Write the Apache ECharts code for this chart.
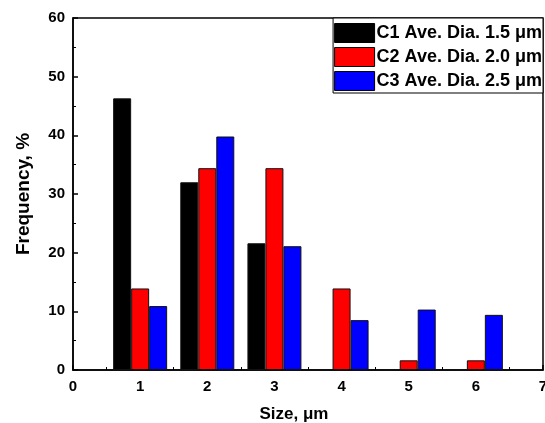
<!DOCTYPE html>
<html>
<head>
<meta charset="utf-8">
<script src="https://cdn.jsdelivr.net/npm/echarts@6/dist/echarts.min.js"></script>
<style>
  html, body { margin: 0; padding: 0; background: #fff; }
  #SizeDist { width: 545px; height: 423px; }
</style>
</head>
<body>
<div id="SizeDist"></div>
<script>
// particle sizes (μm) and frequency (%) per sample
var sizes = [1, 2, 3, 4, 5, 6]
var c1 = [46.3, 32.0, 21.6, 0, 0, 0]
var c2 = [13.9, 34.4, 34.4, 13.9, 1.65, 1.65]
var c3 = [10.9, 39.8, 21.1, 8.5, 10.3, 9.4]
var names = ['C1 Ave. Dia. 1.5 μm', 'C2 Ave. Dia. 2.0 μm', 'C3 Ave. Dia. 2.5 μm']
var colors = ['#000000', '#ff0000', '#0000ff']

var font = 'Arial, "Liberation Sans", sans-serif'
var chart = echarts.init(document.getElementById('SizeDist'))

function pairs(vals) {
  return sizes.map(function (s, i) { return [s, vals[i]] })
}

function bar(name, vals, color) {
  return {
    type: 'bar',
    name: name,
    data: pairs(vals),
    barWidth: 18,
    barGap: '0%',
    itemStyle: {
      color: color,
      borderColor: '#111',
      borderWidth: 1,
    },
  }
}

chart.setOption({
  animation: false,
  grid: {
    left: 73,
    right: 2,
    top: 18,
    bottom: 53,
    containLabel: false,
    outerBoundsMode: 'none',
    show: true,
    borderColor: '#000',
    borderWidth: 1.5,
  },
  legend: {
    orient: 'vertical',
    right: 2,
    top: 18,
    itemWidth: 40,
    itemHeight: 19,
    itemGap: 4,
    padding: [5, 1, 2, 1],
    borderColor: '#000',
    borderWidth: 1,
    backgroundColor: '#fff',
    icon: 'rect',
    itemStyle: { borderColor: '#000', borderWidth: 1 },
    textStyle: {
      color: '#000',
      fontFamily: font,
      fontWeight: 'bold',
      fontSize: 18,
      padding: [0, 0, 0, -3],
    },
    data: names,
  },
  xAxis: {
    type: 'value',
    min: 0,
    max: 7,
    interval: 1,
    name: 'Size, μm',
    nameLocation: 'middle',
    nameGap: 36,
    nameTextStyle: {
      color: '#000',
      fontFamily: font,
      fontWeight: 'bold',
      fontSize: 17,
      padding: [0, 28, 0, 0],
    },
    axisLine: { show: true, lineStyle: { color: '#000', width: 1.5 } },
    axisTick: { show: true, inside: true, length: 5, lineStyle: { color: '#000', width: 1.5 } },
    minorTick: { show: true, splitNumber: 2, length: 3, lineStyle: { color: '#000', width: 1 } },
    axisLabel: { color: '#000', fontFamily: font, fontWeight: 'bold', fontSize: 15, margin: 9 },
    splitLine: { show: false },
  },
  yAxis: {
    type: 'value',
    min: 0,
    max: 60,
    interval: 10,
    name: 'Frequency, %',
    nameLocation: 'middle',
    nameGap: 40,
    nameTextStyle: { color: '#000', fontFamily: font, fontWeight: 'bold', fontSize: 19 },
    axisLine: { show: true, lineStyle: { color: '#000', width: 1.5 } },
    axisTick: { show: true, inside: true, length: 5, lineStyle: { color: '#000', width: 1.5 } },
    minorTick: { show: true, splitNumber: 2, length: 3, lineStyle: { color: '#000', width: 1 } },
    axisLabel: { color: '#000', fontFamily: font, fontWeight: 'bold', fontSize: 15, margin: 8 },
    splitLine: { show: false },
  },
  series: [
    bar(names[0], c1, colors[0]),
    bar(names[1], c2, colors[1]),
    bar(names[2], c3, colors[2]),
  ],
})
</script>
</body>
</html>
